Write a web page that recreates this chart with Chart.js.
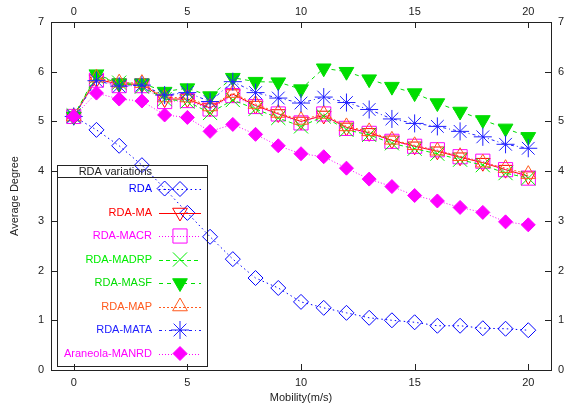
<!DOCTYPE html>
<html lang="en">
<head>
  <meta charset="UTF-8" />
  <title>Average Degree vs Mobility</title>
  <script src="https://cdn.jsdelivr.net/npm/chart.js"></script>
  <style>
    html, body { margin: 0; padding: 0; background: #fff; }
    #wrap { width: 569px; height: 411px; }
  </style>
</head>
<body>
  <div id="wrap"><canvas id="degreeChart" width="569" height="411"></canvas></div>

  <script>
    // valores (grau medio x mobilidade)
    const mobility = [0, 1, 2, 3, 4, 5, 6, 7, 8, 9, 10, 11, 12, 13, 14, 15, 16, 17, 18, 19, 20];
    const xTicks = [0, 5, 10, 15, 20];
    const yTicks = [0, 1, 2, 3, 4, 5, 6, 7];

    const rda      = [5.10, 4.83, 4.51, 4.12, 3.65, 3.16, 2.68, 2.23, 1.85, 1.65, 1.37, 1.25, 1.15, 1.05, 1.00, 0.96, 0.89, 0.89, 0.84, 0.83, 0.80];
    const rdaMa    = [5.10, 5.85, 5.75, 5.75, 5.45, 5.45, 5.27, 5.55, 5.32, 5.15, 5.00, 5.12, 4.88, 4.77, 4.62, 4.50, 4.40, 4.28, 4.17, 4.03, 3.90];
    const rdaMacr  = [5.10, 5.83, 5.72, 5.72, 5.40, 5.42, 5.25, 5.52, 5.30, 5.15, 4.97, 5.15, 4.86, 4.76, 4.60, 4.50, 4.43, 4.29, 4.20, 4.03, 3.86];
    const rdaMadrp = [5.12, 5.90, 5.78, 5.70, 5.45, 5.40, 5.17, 5.43, 5.25, 5.07, 4.90, 5.10, 4.83, 4.73, 4.56, 4.45, 4.35, 4.23, 4.12, 3.96, 3.86];
    const rdaMasf  = [5.10, 5.95, 5.77, 5.77, 5.60, 5.67, 5.51, 5.88, 5.80, 5.79, 5.65, 6.07, 6.00, 5.85, 5.70, 5.57, 5.37, 5.20, 5.03, 4.86, 4.69];
    const rdaMap   = [5.10, 5.88, 5.78, 5.77, 5.48, 5.48, 5.30, 5.57, 5.35, 5.17, 5.03, 5.15, 4.90, 4.80, 4.63, 4.52, 4.41, 4.30, 4.17, 4.06, 3.94];
    const rdaMata  = [5.10, 5.82, 5.71, 5.73, 5.53, 5.58, 5.40, 5.80, 5.58, 5.47, 5.37, 5.49, 5.38, 5.24, 5.05, 4.96, 4.90, 4.80, 4.69, 4.54, 4.46];
    const araneola = [5.10, 5.57, 5.45, 5.41, 5.13, 5.08, 4.80, 4.94, 4.74, 4.51, 4.35, 4.29, 4.06, 3.84, 3.69, 3.51, 3.40, 3.27, 3.17, 2.98, 2.92];

    const FONT = { family: "'Liberation Sans', Arial, sans-serif", size: 11 };
    const TXT = '#222';
    const NONE = 'rgba(0,0,0,0)';

    const pts = arr => arr.map((v, i) => ({ x: mobility[i], y: v }));

    function serie(label, values, cor, dash, estilo, raio, rot, preenchido) {
      return {
        label: label,
        data: pts(values),
        borderColor: cor,
        borderWidth: 1,
        borderDash: dash,
        pointStyle: estilo,
        pointRadius: raio,
        pointRotation: rot,
        pointBorderColor: cor,
        pointBorderWidth: 1,
        pointBackgroundColor: preenchido ? cor : NONE,
        backgroundColor: NONE,
        fill: false,
        tension: 0
      };
    }

    const datasets = [
      serie('RDA', rda, '#0000ff', [1.5, 3], 'rectRot', 7.5, 0, false),
      serie('RDA-MA', rdaMa, '#ff0000', [], 'triangle', 8.5, 180, false),
      serie('RDA-MACR', rdaMacr, '#ff00ff', [1, 2], 'rect', 10, 0, false),
      serie('RDA-MADRP', rdaMadrp, '#00ee00', [4, 3], 'crossRot', 10, 0, false),
      serie('RDA-MASF', rdaMasf, '#00dd00', [4, 4], 'triangle', 8.5, 180, true),
      serie('RDA-MAP', rdaMap, '#ff5a1e', [2, 2], 'triangle', 8.5, 0, false),
      serie('RDA-MATA', rdaMata, '#2020ff', [3, 3, 1, 3], 'star', 9, 0, false),
      serie('Araneola-MANRD', araneola, '#ff00ff', [1, 2], 'rectRot', 7, 0, true)
    ];
    // gnuplot desenha a ultima serie por cima
    datasets.forEach((d, i) => { d.order = -i; });

    // desenha marcador (usa helper do Chart.js)
    function marcador(ctx, d, x, y) {
      ctx.save();
      ctx.setLineDash([]);
      ctx.lineWidth = d.pointBorderWidth;
      ctx.strokeStyle = d.pointBorderColor;
      ctx.fillStyle = d.pointBackgroundColor;
      if (Chart.helpers && Chart.helpers.drawPoint) {
        Chart.helpers.drawPoint(ctx, {
          pointStyle: d.pointStyle, rotation: d.pointRotation,
          radius: d.pointRadius, borderWidth: d.pointBorderWidth
        }, x, y);
      }
      ctx.restore();
    }

    // legenda estilo gnuplot
    const legendaBox = {
      id: 'legendaBox',
      afterDatasetsDraw(chart) {
        const ctx = chart.ctx;
        const L = 57, T = 165, R = 207, B = 366;
        ctx.save();
        ctx.strokeStyle = '#222';
        ctx.lineWidth = 1;
        ctx.setLineDash([]);
        ctx.strokeRect(L + 0.5, T + 0.5, R - L, B - T);
        ctx.beginPath();
        ctx.moveTo(L, 177.5);
        ctx.lineTo(R, 177.5);
        ctx.stroke();

        ctx.font = FONT.size + 'px ' + FONT.family;
        ctx.textAlign = 'right';
        ctx.textBaseline = 'middle';
        ctx.fillStyle = TXT;
        ctx.fillText('RDA variations', 152, 172);

        chart.data.datasets.forEach((d, i) => {
          const y = 189 + i * 23.5;
          ctx.fillStyle = d.borderColor;
          ctx.fillText(d.label, 152, y);
          ctx.strokeStyle = d.borderColor;
          ctx.lineWidth = 1;
          ctx.setLineDash(d.borderDash);
          ctx.beginPath();
          ctx.moveTo(159, Math.round(y) + 0.5);
          ctx.lineTo(201, Math.round(y) + 0.5);
          ctx.stroke();
          marcador(ctx, d, 180, y);
        });
        ctx.restore();
      }
    };

    // marcas dos eixos para dentro (todas as bordas)
    const ticksDentro = {
      id: 'ticksDentro',
      afterDraw(chart) {
        const { ctx, chartArea: a, scales } = chart;
        const len = 6;
        ctx.save();
        ctx.strokeStyle = '#222';
        ctx.lineWidth = 1;
        ctx.setLineDash([]);
        ctx.beginPath();
        xTicks.forEach(v => {
          const px = Math.round(scales.x.getPixelForValue(v)) + 0.5;
          ctx.moveTo(px, a.bottom); ctx.lineTo(px, a.bottom - len);
          ctx.moveTo(px, a.top); ctx.lineTo(px, a.top + len);
        });
        yTicks.forEach(v => {
          const py = Math.round(scales.y.getPixelForValue(v)) + 0.5;
          ctx.moveTo(a.left, py); ctx.lineTo(a.left + len, py);
          ctx.moveTo(a.right, py); ctx.lineTo(a.right - len, py);
        });
        ctx.stroke();
        ctx.restore();
      }
    };

    const fixTicks = list => scale => { scale.ticks = list.map(v => ({ value: v })); };

    function eixoX(pos, tamanho, titulo, pad) {
      return {
        type: 'linear', position: pos, min: -1, max: 21,
        afterBuildTicks: fixTicks(xTicks),
        afterFit: s => { s.height = tamanho; },
        grid: { display: false, drawTicks: false, tickLength: 0 },
        border: { display: true, color: '#222', width: 1 },
        ticks: { font: FONT, color: TXT, padding: pad, maxRotation: 0 },
        title: titulo ? { display: true, text: titulo, font: FONT, color: TXT, padding: { top: 0, bottom: 6 } } : { display: false }
      };
    }

    function eixoY(pos, tamanho, titulo) {
      return {
        type: 'linear', position: pos, min: 0, max: 7,
        afterBuildTicks: fixTicks(yTicks),
        afterFit: s => { s.width = tamanho; },
        grid: { display: false, drawTicks: false, tickLength: 0 },
        border: { display: true, color: '#222', width: 1 },
        ticks: { font: FONT, color: TXT, padding: 7 },
        title: titulo ? { display: true, text: titulo, font: FONT, color: TXT, padding: { top: 8, bottom: 0 } } : { display: false }
      };
    }

    new Chart(document.getElementById('degreeChart'), {
      type: 'line',
      data: { datasets: datasets },
      options: {
        responsive: false,
        animation: false,
        layout: { padding: 0 },
        plugins: {
          legend: { display: false },
          tooltip: { enabled: false }
        },
        scales: {
          x: eixoX('bottom', 41, 'Mobility(m/s)', 6),
          x2: eixoX('top', 22, null, 3),
          y: eixoY('left', 51, 'Average Degree'),
          y2: eixoY('right', 18, null)
        }
      },
      plugins: [legendaBox, ticksDentro]
    });
  </script>
</body>
</html>
